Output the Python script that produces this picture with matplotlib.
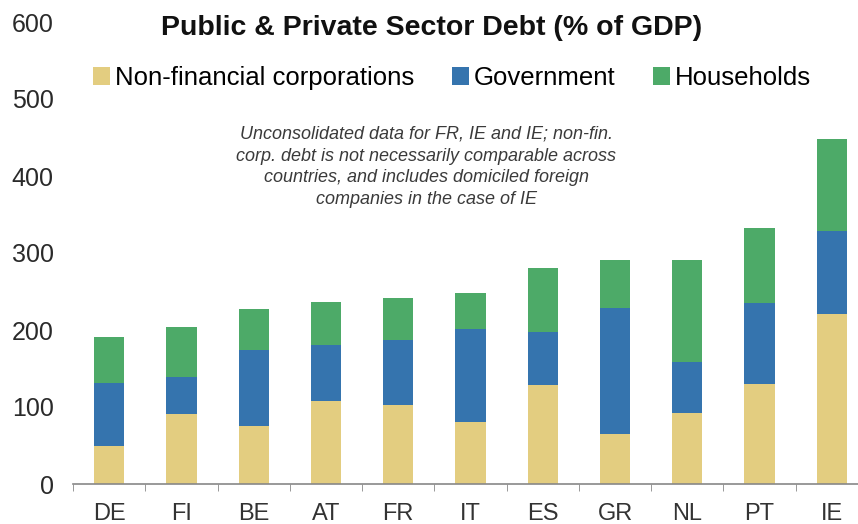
import matplotlib
matplotlib.use("Agg")
import matplotlib.pyplot as plt
import numpy as np

countries = ["DE", "FI", "BE", "AT", "FR", "IT", "ES", "GR", "NL", "PT", "IE"]
non_fin_corp = [49, 91, 75, 108, 103, 81, 128, 65, 92, 130, 221]
government = [82, 48, 99, 73, 84, 120, 70, 163, 66, 105, 107]
households = [60, 65, 53, 56, 55, 47, 83, 63, 133, 97, 120]
yticks = [0, 100, 200, 300, 400, 500, 600]

plt.rcParams['font.family'] = ['Liberation Sans', 'DejaVu Sans']

c_nfc = "#E3CD80"
c_gov = "#3574AE"
c_hh = "#4DAA68"

fig = plt.figure(figsize=(8.58, 5.24), dpi=100)
ax = fig.add_axes([73/858, 40/524, 795/858, 462/524])

x = np.arange(len(countries))
nfc = np.array(non_fin_corp)
gov = np.array(government)
hh = np.array(households)
w = 0.42
ax.bar(x, nfc, w, color=c_nfc, label="Non-financial corporations")
ax.bar(x, gov, w, bottom=nfc, color=c_gov, label="Government")
ax.bar(x, hh, w, bottom=nfc + gov, color=c_hh, label="Households")

ax.set_xlim(-0.5, len(countries) - 0.5)
ax.set_ylim(0, 600)
ax.set_yticks(yticks)
ax.set_yticklabels([str(v) for v in yticks], fontsize=18, color="#2a2a2a")
ax.tick_params(axis='y', length=0, pad=14)
ax.set_xticks(x)
ax.set_xticklabels(countries, fontsize=17, color="#333333")
ax.tick_params(axis='x', length=0, pad=14)
ax.set_xticks(np.arange(len(countries)) - 0.5, minor=True)
ax.tick_params(axis='x', which='minor', length=5, color="#888888", direction='out')

for s in ["top", "right", "left"]:
    ax.spines[s].set_visible(False)
ax.spines["bottom"].set_color("#888888")
ax.spines["bottom"].set_linewidth(1.2)

fig.text(432/858, 1 - 28/524, "Public & Private Sector Debt (% of GDP)",
         ha="center", va="center", fontsize=20.5, fontweight="bold", color="#111111")

leg = ax.legend(loc="center", bbox_to_anchor=(452/858, 1 - 78/524),
                bbox_transform=fig.transFigure, ncol=3, frameon=False,
                fontsize=18.5, handlelength=0.66, handleheight=0.66,
                handletextpad=0.2, columnspacing=1.45, borderpad=0)

note = ("Unconsolidated data for FR, IE and IE; non-fin.\n"
        "corp. debt is not necessarily comparable across\n"
        "countries, and includes domiciled foreign\n"
        "companies in the case of IE")
fig.text(426/858, 1 - 167/524, note, ha="center", va="center", fontsize=13,
         style="italic", color="#3a3a3a", linespacing=1.36)

fig.savefig("out.png", dpi=100)
